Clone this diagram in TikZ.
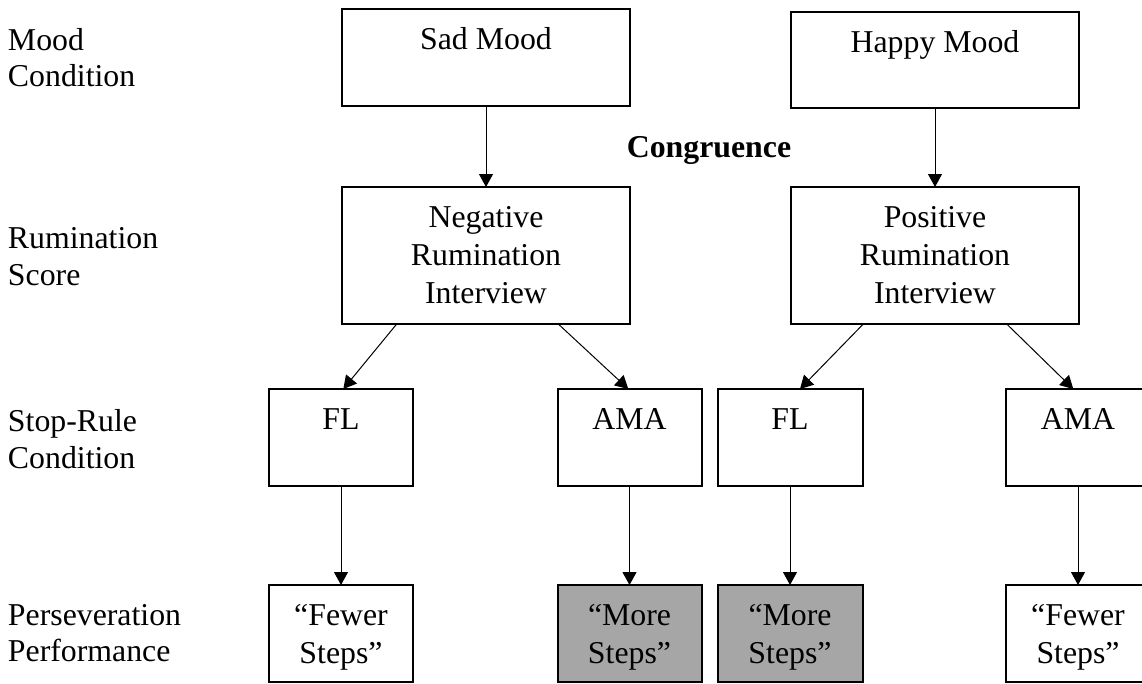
\documentclass[tikz,border=0pt]{standalone}
\usepackage{fontspec}
\setmainfont{Liberation Serif}
\usetikzlibrary{arrows.meta,calc}
\definecolor{boxgray}{RGB}{166,166,166}
\newcommand{\bx}[3]{\parbox[c][#2pt][t]{#1pt}{\centering\rule{0pt}{40.5pt}#3\par}}
\newcommand{\lb}[1]{\parbox[t]{240pt}{\fontsize{31.8}{36.8}\selectfont\raggedright\rule{0pt}{30pt}#1}}
\tikzset{
  box/.style={draw=black, line width=2pt, inner sep=0pt, outer sep=0pt, fill=white},
  gbox/.style={box, fill=boxgray},
  arr/.style={draw=black, line width=1pt, -{Triangle[length=13pt,width=14pt]}},
  lab/.style={anchor=north west, inner sep=0pt, outer sep=0pt},
}
\begin{document}
\begin{tikzpicture}[x=1pt,y=-1pt, font=\fontsize{31.8}{37.8}\selectfont]
\useasboundingbox (0,0) rectangle (1142,683);
% left labels
\node[lab] (l1) at (8,20)    {\lb{Mood\\Condition}};
\node[lab] (l2) at (8,218.5) {\lb{Rumination\\Score}};
\node[lab] (l3) at (8,401.6) {\lb{Stop-Rule\\Condition}};
\node[lab] (l4) at (8,595)   {\lb{Perseveration\\Performance}};
% boxes
\node[box] (sad)   at (486,57.5)  {\bx{288}{97}{Sad Mood}};
\node[box] (happy) at (935,60)    {\bx{288.6}{96.6}{Happy Mood}};
\node[box] (neg)   at (486,255.5) {\bx{288}{137}{Negative\\Rumination\\Interview}};
\node[box] (pos)   at (935,255.5) {\bx{288.6}{137}{Positive\\Rumination\\Interview}};
\node[box] (fl1)   at (341,437.5)    {\bx{144}{97}{FL}};
\node[box] (ama1)  at (629.5,437.5)  {\bx{144}{97}{AMA}};
\node[box] (fl2)   at (790,437.5)    {\bx{145}{97}{FL}};
\node[box] (ama2)  at (1078,437.5)   {\bx{144}{97}{AMA}};
\node[box]  (few1)  at (341,633.5)   {\bx{144}{97}{“Fewer\\Steps”}};
\node[gbox] (more1) at (629.5,633.5) {\bx{144}{97}{“More\\Steps”}};
\node[gbox] (more2) at (790,633.5)   {\bx{145}{97}{“More\\Steps”}};
\node[box]  (few2)  at (1078,633.5)  {\bx{144}{97}{“Fewer\\Steps”}};
% congruence
\node[anchor=base, inner sep=0pt, font=\fontsize{31.8}{37.8}\selectfont\bfseries] (cong) at (709,157) {Congruence};
% arrows
\draw[arr] (sad) -- (neg);
\draw[arr] (happy) -- (pos);
\draw[arr] ([xshift=-89.3pt]neg.south) -- ([xshift=2.3pt]fl1.north);
\draw[arr] ([xshift=72.3pt]neg.south) -- ([xshift=-1.2pt]ama1.north);
\draw[arr] ([xshift=-71.7pt]pos.south) -- ([xshift=10pt]fl2.north);
\draw[arr] ([xshift=71.7pt]pos.south) -- ([xshift=-4.7pt]ama2.north);
\draw[arr] (fl1) -- (few1);
\draw[arr] (ama1) -- (more1);
\draw[arr] (fl2) -- (more2);
\draw[arr] (ama2) -- (few2);
\end{tikzpicture}
\end{document}
